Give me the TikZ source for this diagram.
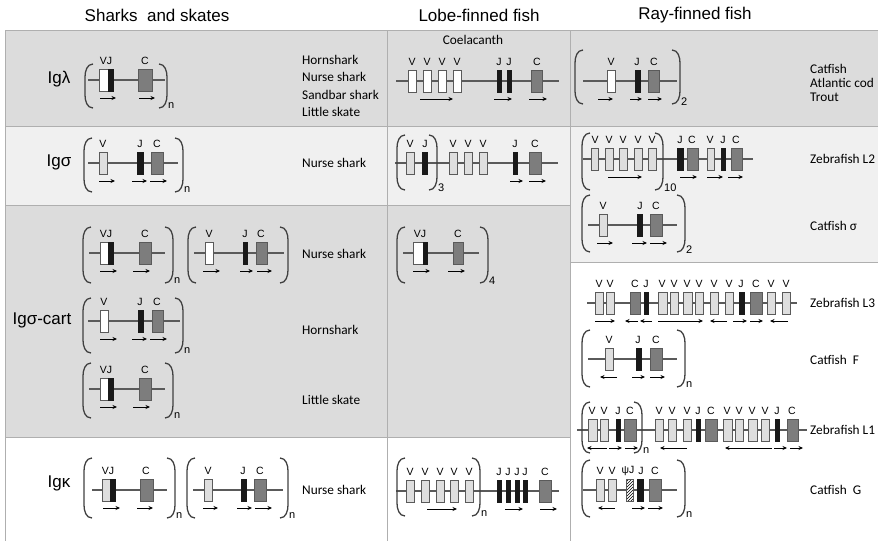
\documentclass[tikz,border=0pt]{standalone}
\usepackage{fontspec}
\setmainfont{Liberation Sans}
\newfontfamily\calib{Carlito}
\usepackage{tikz}
\usetikzlibrary{arrows.meta, patterns}

\definecolor{rowdark}{RGB}{220,220,220}
\definecolor{rowlight}{RGB}{240,240,240}
\definecolor{rulegray}{RGB}{175,175,175}
\definecolor{vfill}{RGB}{222,222,222}
\definecolor{cfill}{RGB}{125,125,125}
\definecolor{jfill}{RGB}{25,25,25}
\definecolor{edgegray}{RGB}{90,90,90}

\tikzset{
  chrom/.style={draw=edgegray, line width=1.1},
  wseg/.style={draw=edgegray, fill=white, line width=0.7},
  vseg/.style={draw=edgegray, fill=vfill, line width=0.7},
  jseg/.style={draw=jfill, fill=jfill, line width=0.7},
  cseg/.style={draw=edgegray, fill=cfill, line width=0.7},
  hseg/.style={draw=edgegray, preaction={fill=white}, pattern=north east lines, line width=0.7},
  tr/.style={-{Stealth[length=4.5pt,width=4pt]}, line width=1},
  brace/.style={draw=black!75, line width=1.3},
  rulel/.style={draw=rulegray, line width=1},
  glbl/.style={font=\fontsize{10.5}{10.5}\selectfont, inner sep=0},
  subs/.style={font=\fontsize{11}{11}\selectfont, inner sep=0, anchor=west},
  sp/.style={font=\calib\fontsize{13.3}{14}\selectfont, anchor=west, inner sep=0},
  hdr/.style={font=\fontsize{17}{18}\selectfont, inner sep=0},
}

% one locus: y, line from, line to, boxes, labels, arrows
\newcommand{\locus}[6]{%
  \draw[chrom] (#2,#1) -- (#3,#1);
  \foreach \a/\b/\k in {#4} {\draw[\k] (\a,#1-11) rectangle (\b,#1+11);}
  \foreach \x/\t in {#5} {\node[glbl] (g-\x-#1) at (\x,#1-19) {\t};}
  \foreach \a/\b in {#6} {\draw[tr] (\a,#1+18) -- (\b,#1+18);}
}
% brackets: left x, right x, top, bottom, subscript
\newcommand{\gbrack}[5]{%
  \draw[brace] (#1+8,#3) to[out=180,in=90] (#1,#3+13) -- (#1,#4-13) to[out=-90,in=180] (#1+8,#4);
  \draw[brace] (#2-8,#3) to[out=0,in=90] (#2,#3+13) -- (#2,#4-13) to[out=-90,in=0] (#2-8,#4);
  \node[subs] at (#2+1,#4-2) {#5};
}

\begin{document}
\begin{tikzpicture}[x=1pt, y=-1pt]
\useasboundingbox (0,0) rectangle (878,541);

% table
\fill[rowdark] (5,30) rectangle (570,126);
\fill[rowlight] (5,126) rectangle (570,205);
\fill[rowdark] (5,205) rectangle (570,437);
\fill[rowdark] (570,30) rectangle (878,126);
\fill[rowlight] (570,126) rectangle (878,262);
\draw[rulel] (5,30) -- (878,30) (5,126) -- (878,126) (5,205) -- (570,205)
  (5,437) -- (570,437) (570,262) -- (878,262);
\draw[rulel] (5,30) -- (5,541) (387,30) -- (387,541) (570,30) -- (570,541);

\node[hdr] (hshark) at (157,15) {Sharks\ \ and skates};
\node[hdr] (hlobe) at (479,15) {Lobe-finned fish};
\node[hdr] (hray) at (695,15) {Ray-finned fish};

\node[hdr] (iglam) at (59,79) {Igλ};
\node[hdr] (igsig) at (59,162) {Igσ};
\node[hdr] (igcart) at (42,320) {Igσ-cart};
\node[hdr] (igkap) at (59,483) {Igκ};

% sharks and skates
\locus{80}{88}{165}{99/108/wseg, 108/113/jseg, 138/152/cseg}{106/VJ, 145/C}{100/116, 139/155}
\gbrack{85}{167}{64}{108}{n}
\locus{163}{88}{178}{99/107/vseg, 137/143/jseg, 151/163/cseg}{103/V, 140/J, 157/C}{99/115, 132/147, 150/167}
\gbrack{84}{183}{138}{192}{n}
\locus{253}{89}{165}{100/108/wseg, 108/113/jseg, 139/151/cseg}{106/VJ, 145/C}{100/117, 133/150}
\gbrack{83}{173}{227}{283}{n}
\locus{253}{194}{284}{205/213/wseg, 243/247/jseg, 256/267/cseg}{209/V, 245/J, 261/C}{203/220, 240/253, 257/272}
\gbrack{188}{288}{227}{283}{}
\locus{321}{88}{180}{100/108/wseg, 138/143/jseg, 152/163/cseg}{104/V, 140/J, 157/C}{100/117, 132/147, 150/167}
\gbrack{83}{183}{298}{353}{n}
\locus{389}{89}{165}{100/108/wseg, 108/113/jseg, 139/151/cseg}{106/VJ, 145/C}{100/117, 133/150}
\gbrack{83}{173}{363}{418}{n}
\locus{490}{92}{167}{102/110/vseg, 110/115/jseg, 140/153/cseg}{108/VJ, 146/C}{103/120, 137/153}
\gbrack{84}{175}{458}{518}{n}
\locus{490}{193}{283}{204/212/vseg, 241/246/jseg, 254/266/cseg}{208/V, 243/J, 260/C}{203/218, 237/252, 255/272}
\gbrack{187}{288}{458}{518}{n}

\node[sp] (hs1) at (302,60) {Hornshark};
\node[sp] (ns1) at (302,77) {Nurse shark};
\node[sp] (sb1) at (302,95) {Sandbar shark};
\node[sp] (ls1) at (302,112) {Little skate};
\node[sp] (ns2) at (302,163) {Nurse shark};
\node[sp] (ns3) at (302,254) {Nurse shark};
\node[sp] (hs3) at (302,330) {Hornshark};
\node[sp] (ls3) at (302,400) {Little skate};
\node[sp] (ns4) at (302,490) {Nurse shark};

% lobe-finned fish
\node[sp, anchor=center] (coel) at (473,40) {Coelacanth};
\locus{81}{396}{559}{408/416/wseg, 423/431/wseg, 438/446/wseg, 453/461/wseg, 497/501/jseg, 507/511/jseg, 531/542/cseg}
  {412/V, 427/V, 442/V, 457/V, 499/J, 509/J, 537/C}{420/453, 494/512, 529/547}
\locus{163}{395}{558}{406/414/vseg, 422/427/jseg, 449/457/vseg, 464/472/vseg, 479/487/vseg, 513/517/jseg, 529/541/cseg}
  {410/V, 425/J, 453/V, 468/V, 483/V, 515/J, 535/C}{510/523, 529/546}
\gbrack{397}{437}{135}{190}{3}
\locus{253}{403}{479}{413/423/wseg, 423/427/jseg, 453/463/cseg}{420/VJ, 458/C}{413/430, 448/465}
\gbrack{397}{488}{227}{283}{4}
\locus{491}{396}{559}{406/414/vseg, 421/429/vseg, 436/444/vseg, 450/458/vseg, 465/473/vseg, 497/501/jseg, 506/510/jseg, 515/519/jseg, 523/527/jseg, 539/551/cseg}
  {410/V, 425/V, 440/V, 454/V, 469/V, 499/J, 508/J, 517/J, 525/J, 545/C}{427/457, 505/523, 540/557}
\gbrack{397}{480}{458}{516}{n}

% ray-finned fish
\locus{81}{583}{677}{607/615/wseg, 635/640/jseg, 648/659/cseg}{611/V, 637/J, 654/C}{598/613, 630/642, 648/662}
\gbrack{575}{680}{50}{104}{2}
\locus{159}{583}{753}{591/598/vseg, 605/613/vseg, 619/627/vseg, 634/642/vseg, 648/656/vseg, 677/683/jseg, 687/698/cseg, 707/714/vseg, 721/725/jseg, 731/742/cseg}
  {595/V, 609/V, 623/V, 638/V, 652/V, 680/J, 692/C, 710/V, 723/J, 736/C}{608/642, 680/697, 707/723, 728/743}
\gbrack{582}{663}{133}{190}{10}
\locus{225}{588}{677}{599/607/vseg, 637/642/jseg, 650/662/cseg}{603/V, 640/J, 656/C}{597/613, 632/647, 650/667}
\gbrack{582}{685}{195}{252}{2}
\locus{303}{587}{797}{595/603/vseg, 606/614/vseg, 630/640/cseg, 644/648/jseg, 658/667/vseg, 670/678/vseg, 683/692/vseg, 695/703/vseg, 710/718/vseg, 725/733/vseg, 739/744/jseg, 750/762/cseg, 767/775/vseg, 782/790/vseg}
  {599/V, 610/V, 635/C, 646/J, 662/V, 674/V, 687/V, 699/V, 714/V, 729/V, 741/J, 756/C, 771/V, 786/V}
  {595/615, 638/625, 652/640, 658/703, 727/710, 733/747, 750/763, 788/770}
\locus{359}{588}{677}{605/613/vseg, 636/641/jseg, 650/662/cseg}{609/V, 638/J, 656/C}{617/600, 632/645, 650/665}
\gbrack{582}{685}{330}{387}{n}
\locus{430}{577}{807}{588/597/vseg, 600/608/vseg, 616/620/jseg, 624/636/cseg, 655/663/vseg, 668/676/vseg, 683/691/vseg, 696/700/jseg, 705/717/cseg, 723/732/vseg, 735/743/vseg, 748/757/vseg, 761/769/vseg, 775/779/jseg, 787/798/cseg}
  {592/V, 604/V, 618/J, 630/C, 659/V, 672/V, 687/V, 698/J, 711/C, 727/V, 739/V, 752/V, 765/V, 777/J, 792/C}
  {607/587, 609/622, 625/638, 687/660, 772/725, 774/787, 790/803}
\gbrack{582}{642}{402}{453}{n}
\locus{490}{583}{677}{596/604/vseg, 608/616/vseg, 626/633/hseg, 637/643/jseg, 649/661/cseg}{600/V, 612/V, 628/ψJ, 641/J, 655/C}{615/598, 632/645, 648/663}
\gbrack{582}{685}{460}{517}{n}

\node[sp] (cf1) at (810,69) {Catfish};
\node[sp] (ac1) at (810,83) {Atlantic cod};
\node[sp] (tr1) at (810,97) {Trout};
\node[sp] (zl2) at (810,159) {Zebrafish L2};
\node[sp] (cfs) at (810,226) {Catfish σ};
\node[sp] (zl3) at (810,303) {Zebrafish L3};
\node[sp] (cff) at (810,360) {Catfish\ \ F};
\node[sp] (zl1) at (810,430) {Zebrafish L1};
\node[sp] (cfg) at (810,490) {Catfish\ \ G};
\end{tikzpicture}
\end{document}
